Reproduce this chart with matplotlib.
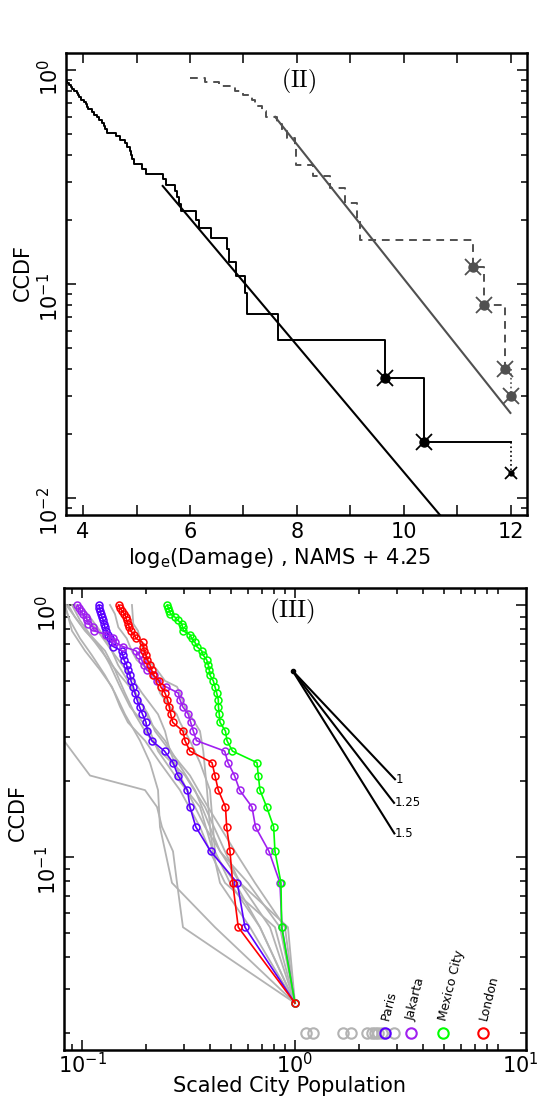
import numpy as np
import matplotlib
matplotlib.use("Agg")
import matplotlib.pyplot as plt
from matplotlib.ticker import FixedLocator, LogLocator, NullFormatter, NullLocator, FixedFormatter

plt.rcParams['font.family'] = ['DejaVu Sans']

# ---------------- Panel (II) data ----------------
black_n = 55
black_rank = [54, 53, 52, 51, 50, 49, 48, 47, 46, 45, 44, 43, 42, 41, 40, 39, 38, 37, 36, 35,
              34, 33, 32, 31, 30, 29, 28, 27, 26, 25, 24, 23, 22, 21, 20, 19, 18, 17, 16, 15,
              14, 13, 12, 11, 10, 9, 8, 7, 6, 5, 4, 3, 2, 1]
black_x = [3.40, 3.45, 3.50, 3.55, 3.60, 3.65, 3.70, 3.74, 3.77, 3.80, 3.84, 3.88, 3.90, 3.93,
           3.96, 4.02, 4.05, 4.08, 4.10, 4.16, 4.20, 4.26, 4.30, 4.36, 4.39, 4.42, 4.45, 4.62,
           4.70, 4.78, 4.82, 4.88, 4.90, 4.92, 4.95, 5.10, 5.17, 5.49, 5.56, 5.72, 5.75, 5.80,
           5.84, 6.12, 6.16, 6.40, 6.69, 6.72, 6.86, 7.03, 7.06, 7.65, 9.64, 10.37]
black_tail = (12.0, 0.0131)

gray_n = 25
gray_rank = [23, 22, 21, 20, 19, 18, 17, 16, 15, 14, 13, 12, 11, 10, 9, 8, 7, 6, 5, 4, 3, 2, 1]
gray_x = [6.00, 6.28, 6.55, 6.85, 7.00, 7.15, 7.22, 7.35, 7.42, 7.62, 7.72, 7.81, 7.96, 7.98,
          7.99, 8.30, 8.62, 8.90, 9.12, 9.18, 11.29, 11.50, 11.89]
gray_tail = (12.0, 0.030)

# fitted exponential tails: start x, start CCDF, exponent (per unit x), end x
fit_black = (5.49, 0.287, 0.683, 11.0)
fit_gray = (7.59, 0.604, 0.724, 11.99)

# ---------------- Panel (III) data ----------------
n_rank = 38
ranks = [38, 37, 36, 35, 34, 33, 32, 31, 30, 29, 28, 27, 26, 25, 24, 23, 22, 21, 20, 19,
         18, 17, 16, 15, 14, 13, 12, 11, 10, 9, 8, 7, 6, 5, 4, 3, 2, 1]
paris_x = [0.1202, 0.1208, 0.1219, 0.1228, 0.1241, 0.1259, 0.1269, 0.1282, 0.1303, 0.1329,
           0.1353, 0.1378, 0.1402, 0.1536, 0.1553, 0.1575, 0.1618, 0.1644, 0.1680, 0.1698,
           0.1741, 0.1773, 0.1812, 0.1862, 0.1923, 0.1997, 0.2026, 0.2124, 0.2440, 0.2675,
           0.2823, 0.3128, 0.3214, 0.3423, 0.4019, 0.5359, 0.5823, 1.0]
jakarta_x = [0.0950, 0.0971, 0.0986, 0.1011, 0.1044, 0.1059, 0.1071, 0.1130, 0.1142, 0.1297,
             0.1402, 0.1428, 0.1553, 0.1792, 0.1858, 0.1907, 0.1955, 0.2012, 0.2178, 0.2242,
             0.2479, 0.2832, 0.2884, 0.2970, 0.3155, 0.3239, 0.3332, 0.3448, 0.4677, 0.4846,
             0.5200, 0.5500, 0.6283, 0.6527, 0.7550, 0.8503, 0.8689, 1.0]
mexico_x = [0.2515, 0.2542, 0.2575, 0.2603, 0.2733, 0.2823, 0.2938, 0.2970, 0.2990, 0.3214,
            0.3273, 0.3393, 0.3456, 0.3648, 0.3711, 0.3850, 0.3917, 0.3960, 0.3990, 0.4134,
            0.4211, 0.4290, 0.4364, 0.4373, 0.4411, 0.4445, 0.4718, 0.4795, 0.5087, 0.6632,
            0.6726, 0.6850, 0.7365, 0.7943, 0.8055, 0.8596, 0.8661, 1.0]
london_x = [0.1484, 0.1508, 0.1541, 0.1583, 0.1609, 0.1621, 0.1649, 0.1667, 0.1692, 0.1754,
            0.1792, 0.1927, 0.1940, 0.1961, 0.1997, 0.2026, 0.2085, 0.2124, 0.2161, 0.2306,
            0.2342, 0.2453, 0.2520, 0.2570, 0.2609, 0.2666, 0.2979, 0.3045, 0.3214, 0.4076,
            0.4211, 0.4364, 0.4718, 0.4779, 0.4953, 0.5098, 0.5417, 1.0]

# other cities (grey): ranks and scaled populations at the drawn vertices
grey_ranks = [
    [14, 11, 8, 7, 6, 5, 4, 3, 2, 1],
    [38, 33, 28, 24, 20, 17, 14, 11, 9, 7, 5, 3, 2, 1],
    [38, 34, 30, 26, 22, 18, 15, 12, 10, 8, 6, 4, 3, 2, 1],
    [38, 33, 29, 25, 21, 17, 14, 12, 10, 8, 6, 4, 3, 2, 1],
    [38, 35, 31, 28, 25, 23, 21, 19, 17, 15, 14, 13, 11, 9, 7, 5, 4, 3, 2, 1],
    [38, 32, 30, 26, 23, 21, 19, 18, 17, 15, 12, 10, 7, 5, 4, 3, 2, 1],
    [38, 30, 25, 21, 18, 15, 13, 11, 9, 7, 5, 4, 3, 2, 1],
    [38, 32, 27, 23, 20, 17, 14, 12, 10, 8, 6, 4, 3, 2, 1],
    [38, 34, 30, 26, 22, 19, 16, 13, 11, 9, 7, 5, 4, 3, 2, 1],
    [38, 35, 31, 28, 24, 20, 17, 14, 12, 10, 8, 6, 5, 3, 2, 1],
]
grey_x = [
    [0.0708, 0.0823, 0.1090, 0.1976, 0.2250, 0.2374, 0.2675, 0.2793, 0.2979, 1.0],
    [0.0823, 0.0878, 0.0979, 0.1113, 0.1282, 0.1428, 0.1591, 0.1872, 0.2085, 0.2275, 0.2323, 0.2645, 0.4211, 1.0],
    [0.0862, 0.0927, 0.1033, 0.1215, 0.1353, 0.1508, 0.1680, 0.2085, 0.2275, 0.2733, 0.3581, 0.4120, 0.5228, 0.6850, 1.0],
    [0.0897, 0.0979, 0.1090, 0.1282, 0.1428, 0.1591, 0.1773, 0.1976, 0.2323, 0.3045, 0.3780, 0.4692, 0.5518, 0.7632, 1.0],
    [0.1353, 0.1428, 0.1481, 0.1621, 0.1712, 0.1806, 0.2048, 0.2242, 0.2323, 0.2589, 0.2784, 0.2884, 0.3214, 0.3581, 0.3990, 0.4120, 0.4211, 0.4953, 0.6850, 1.0],
    [0.1716, 0.1741, 0.1832, 0.1913, 0.2042, 0.2250, 0.2453, 0.2793, 0.2884, 0.3045, 0.3581, 0.3711, 0.3863, 0.3990, 0.4120, 0.4445, 0.6148, 1.0],
    [0.0833, 0.0897, 0.1033, 0.1215, 0.1382, 0.1508, 0.1642, 0.1976, 0.2323, 0.2884, 0.3581, 0.3990, 0.4692, 0.8055, 1.0],
    [0.0843, 0.0979, 0.1151, 0.1325, 0.1508, 0.1773, 0.2042, 0.2201, 0.2589, 0.3214, 0.3904, 0.5228, 0.6489, 0.8976, 1.0],
    [0.0979, 0.1090, 0.1215, 0.1353, 0.1475, 0.1642, 0.1872, 0.2085, 0.2453, 0.2823, 0.3393, 0.3990, 0.4445, 0.6016, 0.8503, 1.0],
    [0.0927, 0.1000, 0.1151, 0.1255, 0.1428, 0.1680, 0.1913, 0.2275, 0.2453, 0.2589, 0.2884, 0.3393, 0.3780, 0.5518, 0.9271, 1.0],
]

# key markers along the bottom of panel (III)
key_y = 0.020
key_grey_x = [1.126, 1.22, 1.686, 1.83, 2.17, 2.29, 2.37, 2.46, 2.55, 2.92]
cities = ['Paris', 'Jakarta', 'Mexico City', 'London']
city_key_x = [2.645, 3.49, 4.94, 7.65]
city_colors = ['#5a00ff', '#a020f0', '#00ff00', '#ff0000']

# reference slopes
slope_start = (0.975, 0.548)
slope_labels = ['1', '1.25', '1.5']
slope_end_x = [2.95, 2.92, 2.93]
slope_end_y = [0.2034, 0.164, 0.124]

# ---------------- figure ----------------
W, H = 540, 1101
fig = plt.figure(figsize=(W / 100, H / 100), dpi=100)
ax1 = fig.add_axes([66 / W, 1 - 515 / H, 461 / W, 462 / H])
ax2 = fig.add_axes([64 / W, 1 - 1050 / H, 462 / W, 462 / H])


def style(ax):
    for s in ax.spines.values():
        s.set_linewidth(1.8)
    ax.tick_params(which='both', direction='in', top=True, right=True, width=1.1, labelsize=15)
    ax.tick_params(which='major', length=7.5)
    ax.tick_params(which='minor', length=4.5)
    ax.tick_params(axis='y', labelrotation=90, pad=3)


# ---- panel II ----
ax1.set_yscale('log')
ax1.set_xlim(3.682, 12.3)
ax1.set_ylim(0.00833, 1.2)
style(ax1)
ax1.tick_params(axis='x', pad=5)
ax1.xaxis.set_major_locator(FixedLocator(list(range(4, 13))))
ax1.xaxis.set_major_formatter(FixedFormatter(['4', '', '6', '', '8', '', '10', '', '12']))
ax1.xaxis.set_minor_locator(NullLocator())
ax1.yaxis.set_major_locator(LogLocator(base=10, numticks=10))
ax1.yaxis.set_minor_locator(LogLocator(base=10, subs=np.arange(2, 10), numticks=20))
ax1.yaxis.set_minor_formatter(NullFormatter())

# black empirical CCDF
by = [r / black_n for r in black_rank]
ax1.step(black_x + [black_tail[0]], by + [by[-1]], where='post', color='black', lw=1.4)
ax1.plot([black_tail[0], black_tail[0]], [by[-1], black_tail[1]], color='black', lw=1.2, ls=':')
for (xx, yy, big) in [(black_x[-2], by[-2], True), (black_x[-1], by[-1], True), (black_tail[0], black_tail[1], False)]:
    ax1.plot(xx, yy, 'o', color='black', ms=6.5 if big else 3.5, zorder=5)
    ax1.plot(xx, yy, 'x', color='black', ms=11 if big else 9, mew=1.3, zorder=5)

# grey empirical CCDF
gc = '#505050'
gy = [r / gray_n for r in gray_rank]
ax1.step(gray_x + [gray_tail[0]], gy + [gy[-1]], where='post', color=gc, lw=1.4, ls=(0, (4, 3)))
ax1.plot([gray_tail[0], gray_tail[0]], [gy[-1], gray_tail[1]], color=gc, lw=1.2, ls=':')
for (xx, yy) in [(gray_x[-3], gy[-3]), (gray_x[-2], gy[-2]), (gray_x[-1], gy[-1]), gray_tail]:
    ax1.plot(xx, yy, 'o', color=gc, ms=6.5, zorder=5)
    ax1.plot(xx, yy, 'x', color=gc, ms=11, mew=1.3, zorder=5)

# fitted tails
for (x0, y0, a, x1), col in [(fit_black, 'black'), (fit_gray, gc)]:
    xs = np.array([x0, x1])
    ax1.plot(xs, y0 * np.exp(-a * (xs - x0)), color=col, lw=1.5)

ax1.text(0.505, 0.939, r'$\mathrm{(II)}$', transform=ax1.transAxes, ha='center', va='center',
         fontsize=17, math_fontfamily='cm')
ax1.set_xlabel(r'log$_\mathrm{e}$(Damage) , NAMS + 4.25', fontsize=15)
ax1.xaxis.set_label_coords(0.463, -0.067)
ax1.set_ylabel('CCDF', fontsize=15)
ax1.yaxis.set_label_coords(-0.0716, 0.524)

# ---- panel III ----
ax2.set_xscale('log')
ax2.set_yscale('log')
ax2.set_xlim(0.0823, 12.16)
ax2.set_ylim(0.01714, 1.168)
style(ax2)
ax2.tick_params(axis='x', pad=1.5)
ax2.xaxis.set_major_locator(FixedLocator([0.1, 1.0]))
ax2.xaxis.set_minor_locator(LogLocator(base=10, subs=np.arange(2, 10), numticks=20))
ax2.xaxis.set_minor_formatter(NullFormatter())
ax2.yaxis.set_major_locator(LogLocator(base=10, numticks=10))
ax2.yaxis.set_minor_locator(LogLocator(base=10, subs=np.arange(2, 10), numticks=20))
ax2.yaxis.set_minor_formatter(NullFormatter())
ax2.annotate(r'$\mathdefault{10^{1}}$', xy=(11.4, 0), xycoords=('data', 'axes fraction'),
             xytext=(0, -1.5), textcoords='offset points', ha='center', va='top', fontsize=15,
             annotation_clip=False)

grey_col = '#b3b3b3'
for rr, xx in zip(grey_ranks, grey_x):
    ax2.plot(xx, [r / n_rank for r in rr], color=grey_col, lw=1.3)

ccdf = [r / n_rank for r in ranks]
for xs, col in zip([paris_x, jakarta_x, mexico_x, london_x], city_colors):
    ax2.plot(xs, ccdf, '-o', color=col, lw=1.2, ms=5, mfc='none', mew=1.1)

# slope guide
for lab, ex, ey in zip(slope_labels, slope_end_x, slope_end_y):
    ax2.plot([slope_start[0], ex], [slope_start[1], ey], color='black', lw=1.5)
    ax2.annotate(lab, xy=(ex, ey), xytext=(0.5, 0), textcoords='offset points', ha='left',
                 va='center', fontsize=8.5)
ax2.plot(*slope_start, 'o', color='black', ms=3)

# key
ax2.plot(key_grey_x, [key_y] * len(key_grey_x), 'o', ls='none', ms=7.5, mfc='none', mec=grey_col, mew=1.5)
for name, kx, col in zip(cities, city_key_x, city_colors):
    ax2.plot(kx, key_y, 'o', ms=7.5, mfc='none', mec=col, mew=1.5)
    ax2.annotate(name, xy=(kx, key_y), xytext=(4.5, 8), textcoords='offset points', rotation=76,
                 rotation_mode='anchor', ha='left', va='bottom', fontsize=9)

ax2.text(0.4935, 0.950, r'$\mathrm{(III)}$', transform=ax2.transAxes, ha='center', va='center',
         fontsize=18, math_fontfamily='cm')
ax2.set_xlabel('Scaled City Population', fontsize=15)
ax2.xaxis.set_label_coords(0.489, -0.056)
ax2.set_ylabel('CCDF', fontsize=15)
ax2.yaxis.set_label_coords(-0.078, 0.513)

fig.savefig('out.png', dpi=100)
